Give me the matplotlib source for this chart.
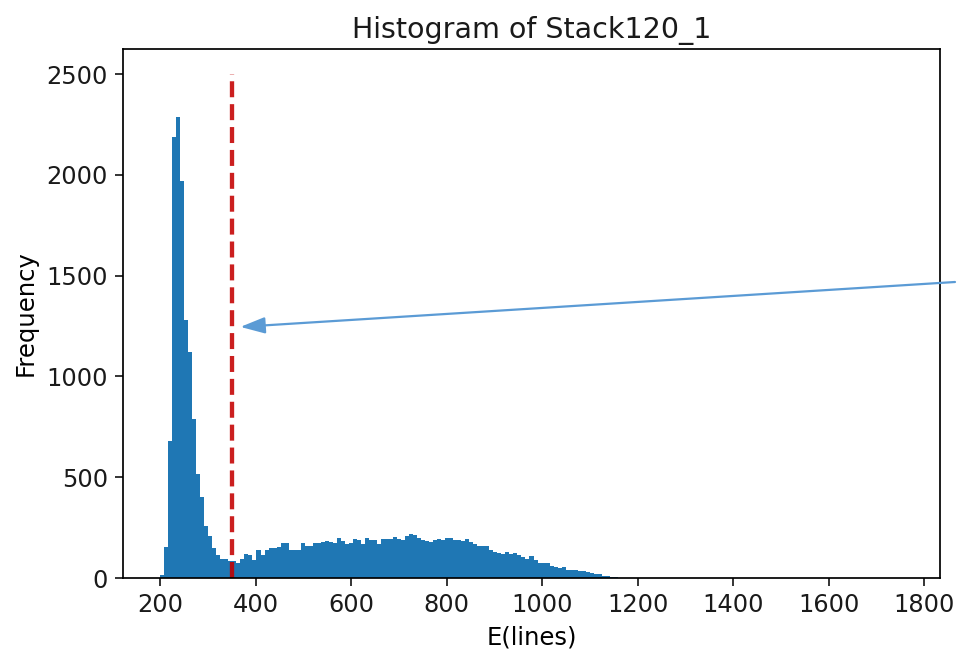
import numpy as np
import matplotlib
matplotlib.use("Agg")
import matplotlib.pyplot as plt

# ---- data ----
x_min, x_max = 200.0, 1755.0
n_bins = 185
counts = [
    15, 156, 678, 2190, 2290, 1970, 1282, 1122, 790, 517,
    401, 260, 210, 150, 115, 95, 95, 83, 83, 75,
    96, 118, 113, 91, 141, 113, 137, 149, 149, 154,
    174, 174, 137, 137, 137, 174, 157, 157, 174, 174,
    179, 185, 178, 174, 200, 184, 171, 175, 196, 191,
    171, 200, 187, 190, 171, 196, 196, 196, 205, 195,
    191, 207, 218, 215, 200, 191, 185, 180, 190, 195,
    187, 200, 200, 191, 190, 184, 193, 179, 170, 160,
    157, 160, 141, 129, 125, 121, 129, 121, 125, 115,
    104, 92, 110, 90, 76, 75, 75, 62, 55, 48,
    55, 40, 38, 38, 36, 34, 30, 25, 22, 18,
    10, 8, 6, 3, 2, 1,
]
counts = counts + [0] * (n_bins - len(counts) - 1) + [1]
threshold = 350
threshold_top = 2500

title = "Histogram of Stack120_1"
xlabel = "E(lines)"
ylabel = "Frequency"

# ---- drawing ----
S = 1.555  # scale factor relative to default matplotlib sizes
plt.rcParams.update({
    "font.family": ["DejaVu Sans"],
    "font.size": 17.4,
    "axes.linewidth": 0.8 * S,
    "xtick.major.size": 3.5 * S,
    "ytick.major.size": 3.5 * S,
    "xtick.major.width": 0.8 * S,
    "ytick.major.width": 0.8 * S,
    "xtick.major.pad": 3.5 * S,
    "ytick.major.pad": 3.5 * S,
    "axes.labelpad": 4 * S,
    "axes.titlepad": 5 * S,
    "text.color": "#1a1a1a",
    "xtick.color": "#1a1a1a",
    "ytick.color": "#1a1a1a",
})

fig = plt.figure(figsize=(9.58, 6.53), dpi=100)
ax = fig.add_axes([123 / 958, 1 - 578 / 653, (940 - 123) / 958, (578 - 49) / 653])

edges = np.linspace(x_min, x_max, n_bins + 1)
centers = 0.5 * (edges[:-1] + edges[1:])
ax.hist(centers, bins=edges, weights=counts, color="#1f77b4")

ax.vlines(threshold, 0, threshold_top, colors="#c40000", linestyles="dashed",
          linewidth=2.0 * S, alpha=0.88)

ax.set_title(title, fontsize=20.5)
ax.set_xlabel(xlabel, fontsize=17.5)
ax.set_ylabel(ylabel, fontsize=17.5)
ax.set_xticks(np.arange(200, 1801, 200))
ax.set_yticks(np.arange(0, 2501, 500))

# annotation arrow pointing at the threshold line
ax.annotate("", xy=(368, 1246), xycoords="data",
            xytext=(955 / 958, 1 - 282 / 653), textcoords="figure fraction",
            arrowprops=dict(arrowstyle="-|>,head_length=0.75,head_width=0.25",
                            color="#5b9bd5", lw=1.6, mutation_scale=20,
                            shrinkA=0, shrinkB=0),
            annotation_clip=False)

fig.savefig("out.png", dpi=100)
